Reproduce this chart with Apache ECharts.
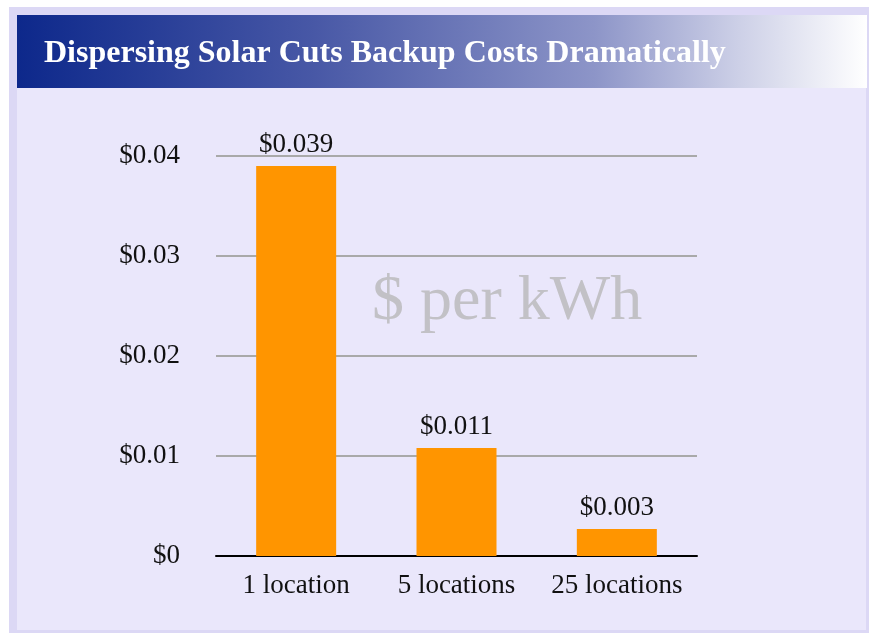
<!DOCTYPE html>
<html><head><meta charset="utf-8">
<script src="https://cdn.jsdelivr.net/npm/echarts@6/dist/echarts.min.js"></script>
<style>html,body{margin:0;padding:0;background:#fff}#c{width:869px;height:635px}</style>
</head><body><div id="c"></div>
<script>
const categories = ['1 location', '5 locations', '25 locations'];
const costs = [0.039, 0.0108, 0.0027];
const yTicks = [0, 0.01, 0.02, 0.03, 0.04];
const titleText = 'Dispersing Solar Cuts Backup Costs Dramatically';
const watermark = '$ per kWh';

const chart = echarts.init(document.getElementById('c'), null, {renderer: 'canvas'});
const serif = '"Liberation Serif", "Times New Roman", serif';
chart.setOption({
  backgroundColor: '#ffffff',
  animation: false,
  graphic: [
    {type: 'rect', z: -10, silent: true, shape: {x: 9, y: 7, width: 860, height: 626}, style: {fill: '#dcd8f5'}},
    {type: 'rect', z: -9, silent: true, shape: {x: 17, y: 15, width: 849, height: 615}, style: {fill: '#eae7fb'}},
    {type: 'rect', z: -8, silent: true, shape: {x: 17, y: 15, width: 850, height: 73},
      style: {fill: new echarts.graphic.LinearGradient(0, 0, 1, 0, [
        {offset: 0, color: '#0d288b'},
        {offset: 0.35, color: '#4858a6'},
        {offset: 0.68, color: '#8d95c8'},
        {offset: 0.85, color: '#cdd0e7'},
        {offset: 1, color: '#ffffff'}
      ])}},
    {type: 'text', z: 1, silent: true, left: 44, top: 38,
      style: {text: titleText, fill: '#ffffff', font: 'bold 32px ' + serif}},
    {type: 'text', z: 1, silent: true, left: 372, top: 270,
      style: {text: watermark, fill: '#c2c1c6', font: '64px ' + serif}}
  ],
  grid: {left: 216, right: 172, top: 156, bottom: 79, containLabel: false},
  xAxis: {
    type: 'category', data: categories,
    axisLine: {lineStyle: {color: '#000', width: 2}},
    axisTick: {show: false},
    axisLabel: {color: '#111', fontFamily: serif, fontSize: 27, margin: 16, interval: 0, hideOverlap: false}
  },
  yAxis: {
    type: 'value', min: 0, max: 0.04, interval: 0.01,
    axisLine: {show: false}, axisTick: {show: false},
    splitLine: {lineStyle: {color: '#a9a9a9', width: 2}},
    axisLabel: {color: '#111', fontFamily: serif, fontSize: 27, margin: 36,
      formatter: v => v === 0 ? '$0' : '$' + v.toFixed(2)}
  },
  series: [{
    type: 'bar', data: costs, barWidth: 80,
    itemStyle: {color: '#ff9500'},
    label: {show: true, position: 'top', distance: 8, color: '#111', fontFamily: serif, fontSize: 27,
      formatter: p => '$' + p.value.toFixed(3)}
  }]
});
</script></body></html>
